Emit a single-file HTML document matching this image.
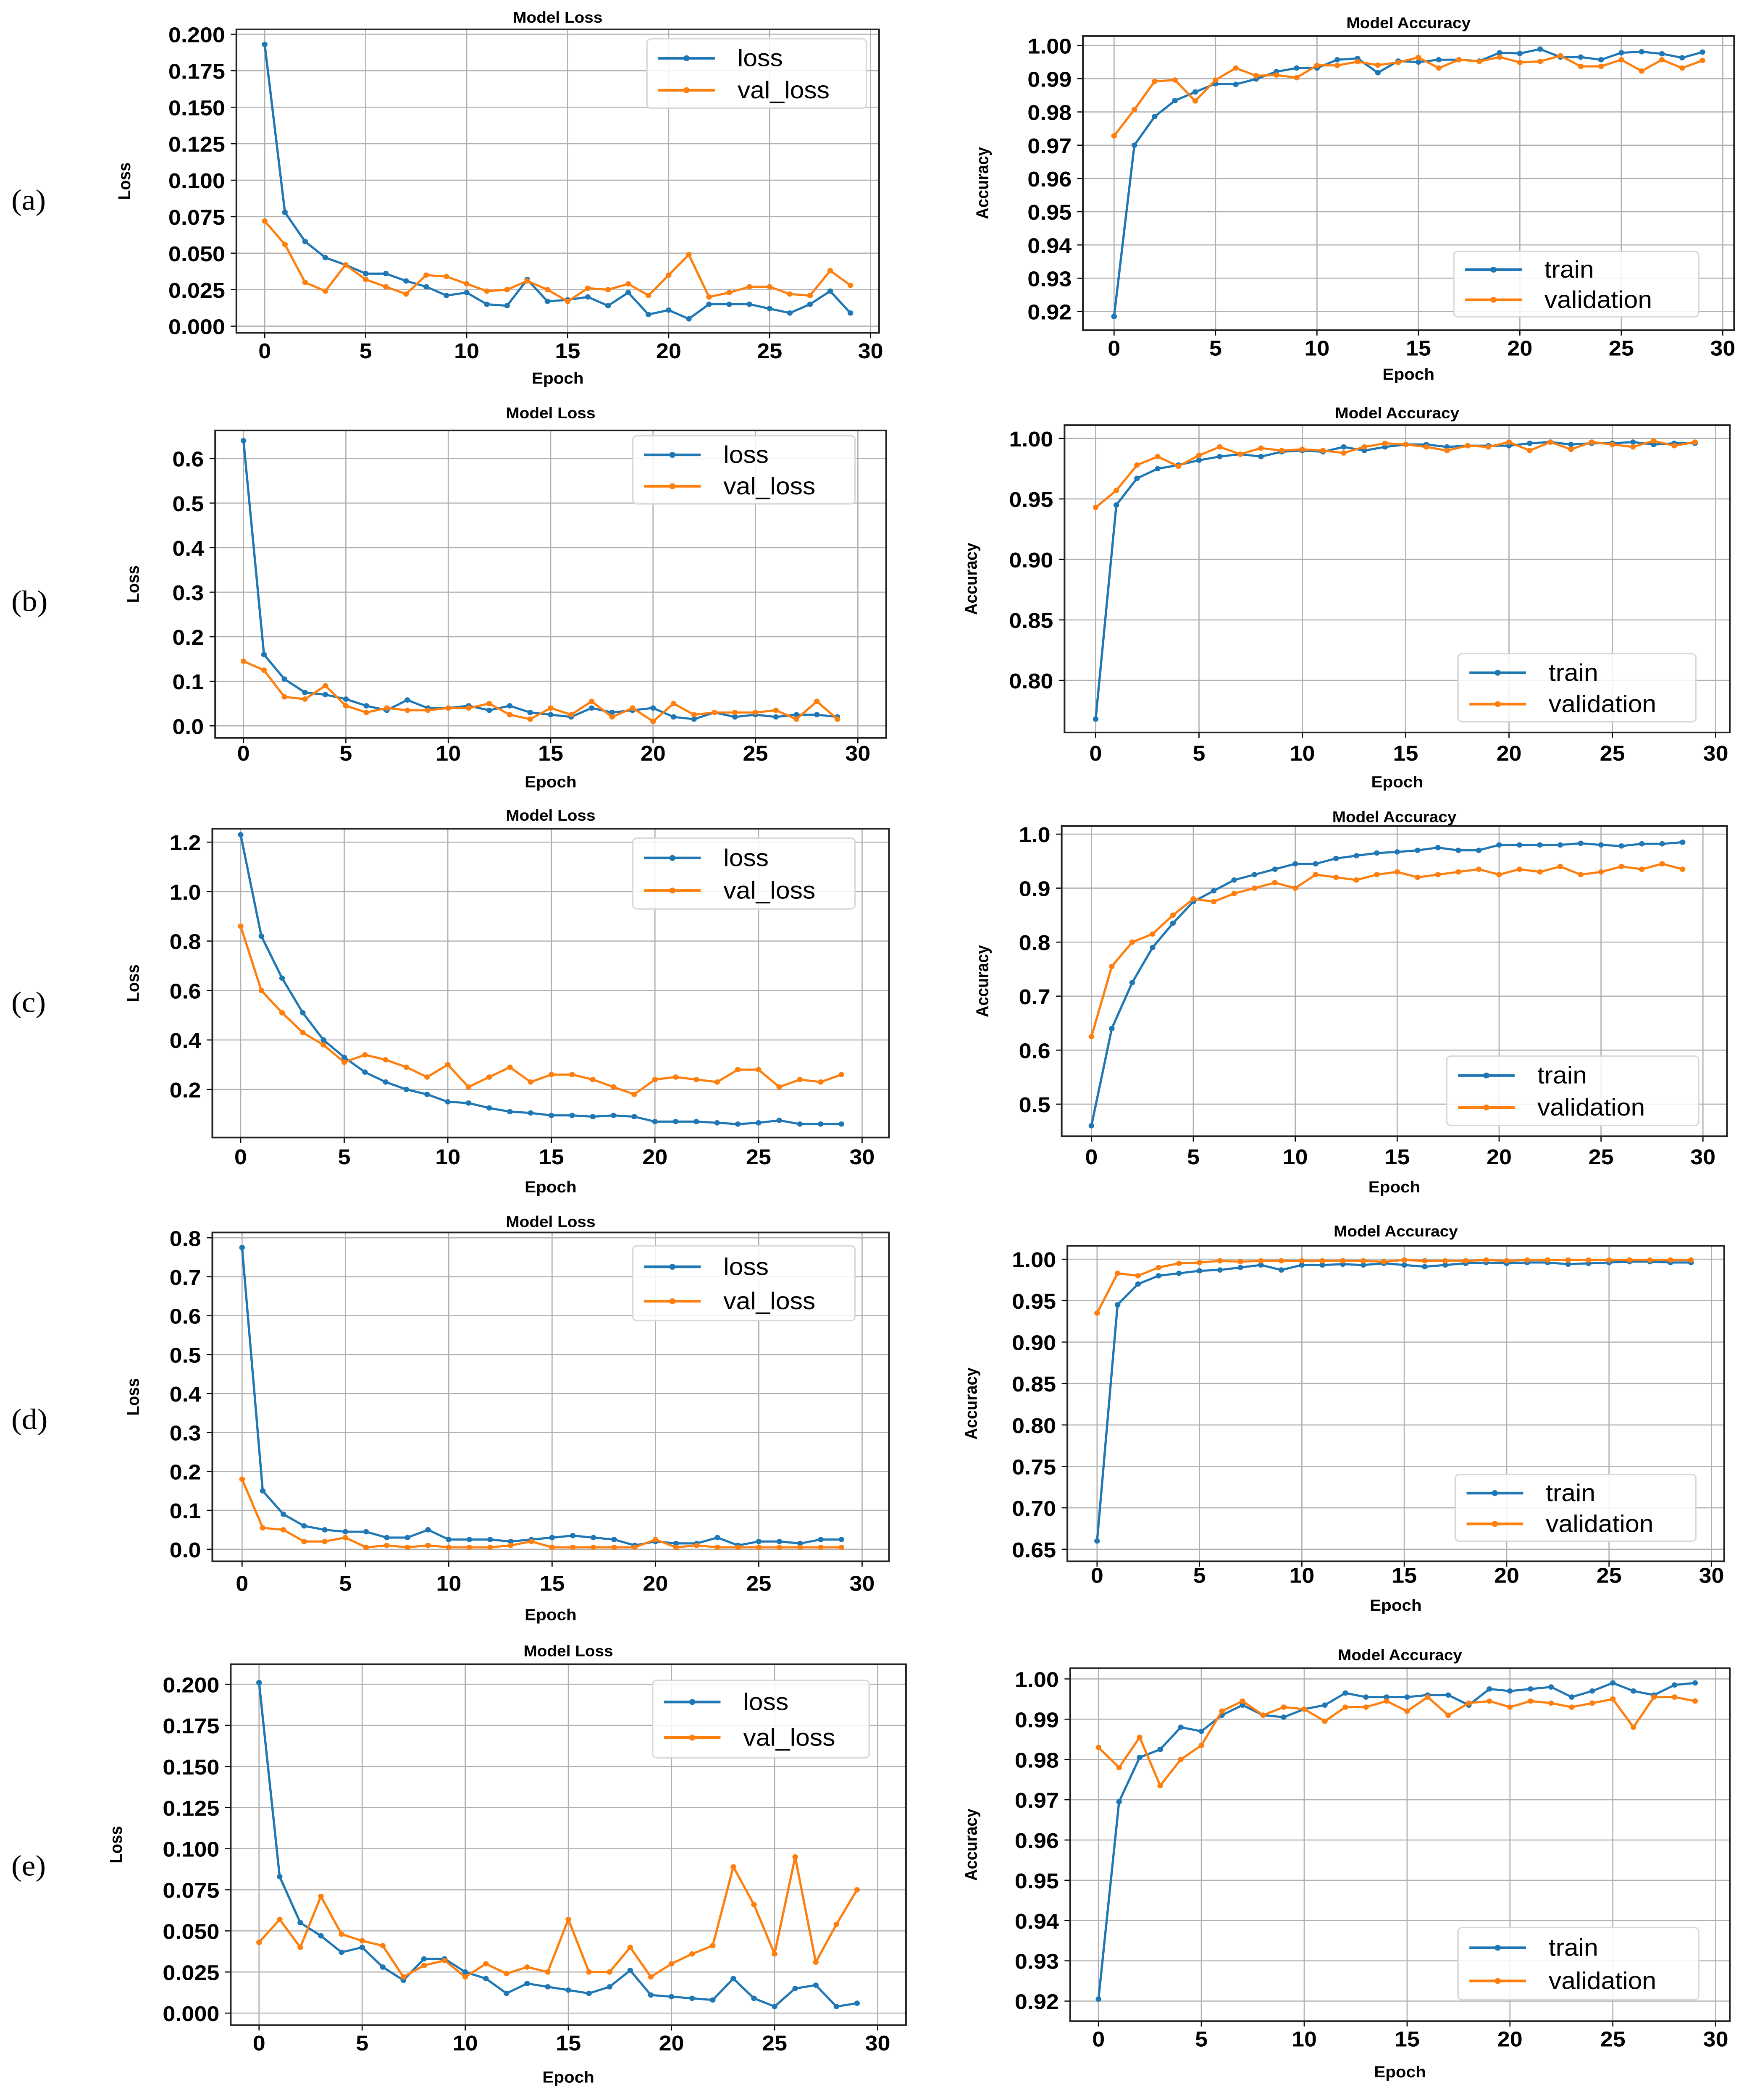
<!DOCTYPE html>
<html><head><meta charset="utf-8">
<style>
html,body{margin:0;padding:0;background:#fff;overflow:hidden;width:100%;height:100%;}
svg{display:block;position:fixed;left:0;top:0;width:100vw;height:100vh;}
</style></head>
<body>
<svg id="fig" xmlns="http://www.w3.org/2000/svg" viewBox="0 0 1232 1571" preserveAspectRatio="none"></svg>
<script>
const epochs = Array.from({length:30},(_,i)=>i);
const xTicks = [0,5,10,15,20,25,30];

const aLoss = [.193,.078,.058,.047,.042,.036,.036,.031,.027,.021,.023,.015,.014,.032,.017,.018,.020,.014,.023,.008,.011,.005,.015,.015,.015,.012,.009,.015,.024,.009];
const aValLoss = [.072,.056,.030,.024,.042,.032,.027,.022,.035,.034,.029,.024,.025,.031,.025,.017,.026,.025,.029,.021,.035,.049,.020,.023,.027,.027,.022,.021,.038,.028];
const aTrain = [.9185,.970,.9786,.9834,.986,.9885,.9883,.9899,.9921,.9932,.9932,.9957,.9961,.9918,.9953,.995,.9957,.9957,.9953,.9978,.9976,.9989,.9965,.9965,.9957,.9978,.9981,.9975,.9963,.998];
const aVal = [.9728,.9807,.9892,.9896,.9833,.9896,.9932,.9909,.9911,.9903,.994,.994,.9951,.9941,.9949,.9964,.9932,.9957,.9952,.9965,.9949,.9952,.9969,.9937,.9937,.9957,.9923,.9957,.9932,.9955];

const bLoss = [.64,.16,.105,.075,.07,.06,.045,.035,.058,.04,.04,.045,.035,.045,.03,.025,.02,.04,.03,.035,.04,.02,.015,.03,.02,.025,.02,.025,.025,.02];
const bValLoss = [.145,.125,.065,.06,.09,.045,.03,.04,.035,.035,.04,.04,.05,.025,.015,.04,.025,.055,.02,.04,.01,.05,.025,.03,.03,.03,.035,.015,.055,.015];
const bTrain = [.768,.945,.967,.975,.978,.982,.985,.987,.985,.989,.99,.989,.993,.99,.993,.995,.995,.993,.994,.994,.994,.996,.997,.995,.996,.996,.997,.995,.996,.996];
const bVal = [.943,.957,.978,.985,.977,.986,.993,.987,.992,.99,.991,.99,.988,.993,.996,.995,.993,.99,.994,.993,.997,.99,.997,.991,.997,.995,.993,.998,.994,.997];

const cLoss = [1.23,.82,.65,.51,.40,.33,.27,.23,.20,.18,.15,.145,.125,.11,.105,.095,.095,.09,.095,.09,.07,.07,.07,.065,.06,.065,.075,.06,.06,.06];
const cValLoss = [.86,.60,.51,.43,.38,.31,.34,.32,.29,.25,.30,.21,.25,.29,.23,.26,.26,.24,.21,.18,.24,.25,.24,.23,.28,.28,.21,.24,.23,.26];
const cTrain = [.46,.64,.725,.79,.835,.875,.895,.915,.925,.935,.945,.945,.955,.96,.965,.967,.97,.975,.97,.97,.98,.98,.98,.98,.983,.98,.978,.982,.982,.985];
const cVal = [.625,.755,.80,.815,.85,.88,.875,.89,.90,.91,.90,.925,.92,.915,.925,.93,.92,.925,.93,.935,.925,.935,.93,.94,.925,.93,.94,.935,.945,.935];

const dLoss = [.775,.15,.09,.06,.05,.045,.045,.03,.03,.05,.025,.025,.025,.02,.025,.03,.035,.03,.025,.01,.02,.015,.015,.03,.01,.02,.02,.015,.025,.025];
const dValLoss = [.18,.055,.05,.02,.02,.03,.005,.01,.005,.01,.005,.005,.005,.01,.02,.005,.005,.005,.005,.005,.025,.005,.01,.005,.005,.005,.005,.005,.005,.005];
const dTrain = [.66,.945,.97,.98,.983,.986,.987,.99,.993,.987,.993,.993,.994,.993,.995,.993,.991,.993,.995,.996,.995,.996,.996,.994,.995,.996,.997,.997,.996,.996];
const dVal = [.935,.983,.98,.99,.995,.996,.998,.997,.998,.998,.998,.998,.998,.998,.997,.999,.998,.998,.998,.999,.998,.999,.999,.999,.999,.999,.999,.999,.999,.999];

const eLoss = [.201,.083,.055,.047,.037,.04,.028,.02,.033,.033,.025,.021,.012,.018,.016,.014,.012,.016,.026,.011,.01,.009,.008,.021,.009,.004,.015,.017,.004,.006];
const eValLoss = [.043,.057,.04,.071,.048,.044,.041,.022,.029,.032,.022,.03,.024,.028,.025,.057,.025,.025,.04,.022,.03,.036,.041,.089,.066,.036,.095,.031,.054,.075];
const eTrain = [.9205,.9695,.9805,.9825,.988,.987,.991,.9935,.991,.9905,.9925,.9935,.9965,.9955,.9955,.9955,.996,.996,.9935,.9975,.997,.9975,.998,.9955,.997,.999,.997,.996,.9985,.999];
const eVal = [.983,.978,.9855,.9735,.98,.9835,.992,.9945,.991,.993,.9925,.9895,.993,.993,.9945,.992,.9955,.991,.994,.9945,.993,.9945,.994,.993,.994,.995,.988,.9955,.9955,.9945];

const lossTicksA = [0,0.025,0.05,0.075,0.1,0.125,0.15,0.175,0.2];
const accTicksA = [0.92,0.93,0.94,0.95,0.96,0.97,0.98,0.99,1.0];
const lossTicksB = [0,0.1,0.2,0.3,0.4,0.5,0.6];
const accTicksB = [0.80,0.85,0.90,0.95,1.00];
const lossTicksC = [0.2,0.4,0.6,0.8,1.0,1.2];
const accTicksC = [0.5,0.6,0.7,0.8,0.9,1.0];
const lossTicksD = [0,0.1,0.2,0.3,0.4,0.5,0.6,0.7,0.8];
const accTicksD = [0.65,0.70,0.75,0.80,0.85,0.90,0.95,1.00];

const NS = "http://www.w3.org/2000/svg";
const svg = document.getElementById('fig');
const BLUE = "#1f77b4", ORANGE = "#ff7f0e";
const FONT = '"Liberation Sans", "DejaVu Sans", sans-serif';

function mk(tag, attrs, parent){
  const e = document.createElementNS(NS, tag);
  for (const k in attrs) e.setAttribute(k, attrs[k]);
  (parent||svg).appendChild(e);
  return e;
}

function panel(p){
  const g = mk('g', {});
  
  
  const xs = v => p.x0 + (p.x30 - p.x0) * v / 30;
  const ys = v => p.yA + (p.yB - p.yA) * (v - p.vA) / (p.vB - p.vA);
  for (const t of xTicks){
    const gl = mk('line', {x1:xs(t), x2:xs(t), y1:p.f[1], y2:p.f[3], stroke:'#b0b0b0', 'stroke-width':0.8}, g);
    
    
    const tl = mk('text', {x:xs(t), y:p.xtY, 'text-anchor':'middle', 'font-family':FONT, 'font-weight':'bold', 'font-size':16}, g);
    tl.textContent = t;
    
    
    mk('line', {x1:xs(t), x2:xs(t), y1:p.f[3], y2:p.f[3]+4, stroke:'#000', 'stroke-width':0.8}, g);
  }
  for (const t of p.yt){
    const gl = mk('line', {x1:p.f[0], x2:p.f[2], y1:ys(t), y2:ys(t), stroke:'#b0b0b0', 'stroke-width':0.8}, g);
    
    
    const tl = mk('text', {x:p.f[0]-8, y:ys(t)+6, 'text-anchor':'end', 'font-family':FONT, 'font-weight':'bold', 'font-size':16}, g);
    tl.textContent = t.toFixed(p.dec);
    
    
    mk('line', {x1:p.f[0]-4, x2:p.f[0], y1:ys(t), y2:ys(t), stroke:'#000', 'stroke-width':0.8}, g);
  }
  const series = [[p.s1, BLUE, p.l1], [p.s2, ORANGE, p.l2]];
  for (const [arr, col, lab] of series){
    const pts = arr.map((v,i)=>xs(epochs[i]).toFixed(2)+','+ys(v).toFixed(2)).join(' ');
    const pl = mk('polyline', {points:pts, fill:'none', stroke:col, 'stroke-width':1.6, 'stroke-linejoin':'round'}, g);
    
    
    arr.forEach((v,i)=>{
      const c = mk('circle', {cx:xs(epochs[i]), cy:ys(v), r:2, fill:col}, g);
      
      
    });
  }
  const fr = mk('rect', {x:p.f[0], y:p.f[1], width:p.f[2]-p.f[0], height:p.f[3]-p.f[1], fill:'none', stroke:'#222', 'stroke-width':1.2}, g);
  
  
  const ti = mk('text', {x:(p.f[0]+p.f[2])/2, y:p.tY, 'text-anchor':'middle', 'font-family':FONT, 'font-weight':'bold', 'font-size':11.5}, g);
  ti.textContent = p.title;
  
  
  const xl = mk('text', {x:(p.f[0]+p.f[2])/2, y:p.xlY, 'text-anchor':'middle', 'font-family':FONT, 'font-weight':'bold', 'font-size':12}, g);
  xl.textContent = 'Epoch';
  
  
  const yc = (p.f[1]+p.f[3])/2;
  const yl = mk('text', {x:p.ylX, y:yc, 'text-anchor':'middle', 'font-family':FONT, 'font-weight':'bold', 'font-size':12, transform:`rotate(-90 ${p.ylX} ${yc})`}, g);
  yl.textContent = p.ylab;
  
  
  const L = p.leg;
  const lg = mk('g', {}, g);
  
  
  mk('rect', {x:L[0], y:L[1], width:L[2]-L[0], height:L[3]-L[1], rx:3, fill:'#fff', 'fill-opacity':0.85, stroke:'#d8d8d8', 'stroke-width':1}, lg);
  const h = (L[3]-L[1]);
  [[p.l1, BLUE, L[1]+h*0.28],[p.l2, ORANGE, L[1]+h*0.74]].forEach(([lab,col,yy])=>{
    const e = mk('g', {}, lg);
    
    
    mk('line', {x1:L[0]+8, x2:L[0]+48, y1:yy, y2:yy, stroke:col, 'stroke-width':2}, e);
    mk('circle', {cx:L[0]+28, cy:yy, r:2.2, fill:col}, e);
    const t = mk('text', {x:L[0]+64, y:yy+6, 'font-family':FONT, 'font-size':18}, e);
    t.textContent = lab;
  });
}

const P = [
 {name:'panel-a-loss', f:[167,22,621,249], x0:187, x30:615, vA:0, yA:244, vB:0.2, yB:25.6, yt:lossTicksA, dec:3, s1:aLoss, s2:aValLoss, l1:'loss', l2:'val_loss', title:'Model Loss', tY:17, xtY:268, xlY:287, ylX:92, ylab:'Loss', leg:[457,29,612,81]},
 {name:'panel-a-accuracy', f:[765,27,1225,247], x0:787, x30:1217, vA:0.92, yA:233, vB:1.0, yB:34, yt:accTicksA, dec:2, s1:aTrain, s2:aVal, l1:'train', l2:'validation', title:'Model Accuracy', tY:21, xtY:266, xlY:284, ylX:698, ylab:'Accuracy', leg:[1027,188,1200,237]},
 {name:'panel-b-loss', f:[152,322,626,552], x0:172, x30:606, vA:0, yA:543, vB:0.6, yB:343, yt:lossTicksB, dec:1, s1:bLoss, s2:bValLoss, l1:'loss', l2:'val_loss', title:'Model Loss', tY:313, xtY:569, xlY:589, ylX:98, ylab:'Loss', leg:[447,326,604,377]},
 {name:'panel-b-accuracy', f:[752,318,1222,548], x0:774, x30:1212, vA:0.80, yA:509, vB:1.0, yB:328, yt:accTicksB, dec:2, s1:bTrain, s2:bVal, l1:'train', l2:'validation', title:'Model Accuracy', tY:313, xtY:569, xlY:589, ylX:690, ylab:'Accuracy', leg:[1030,489,1198,540]},
 {name:'panel-c-loss', f:[150,620,628,851], x0:170, x30:609, vA:0.2, yA:815, vB:1.2, yB:630, yt:lossTicksC, dec:1, s1:cLoss, s2:cValLoss, l1:'loss', l2:'val_loss', title:'Model Loss', tY:614, xtY:871, xlY:892, ylX:98, ylab:'Loss', leg:[447,627,604,680]},
 {name:'panel-c-accuracy', f:[750,618,1220,850], x0:771, x30:1203, vA:0.5, yA:826, vB:1.0, yB:624, yt:accTicksC, dec:1, s1:cTrain, s2:cVal, l1:'train', l2:'validation', title:'Model Accuracy', tY:615, xtY:871, xlY:892, ylX:698, ylab:'Accuracy', leg:[1022,790,1200,842]},
 {name:'panel-d-loss', f:[150,922,628,1168], x0:171, x30:609, vA:0, yA:1159, vB:0.8, yB:926, yt:lossTicksD, dec:1, s1:dLoss, s2:dValLoss, l1:'loss', l2:'val_loss', title:'Model Loss', tY:918, xtY:1190, xlY:1212, ylX:98, ylab:'Loss', leg:[447,932,604,988]},
 {name:'panel-d-accuracy', f:[754,932,1218,1168], x0:775, x30:1209, vA:0.65, yA:1159, vB:1.0, yB:942, yt:accTicksD, dec:2, s1:dTrain, s2:dVal, l1:'train', l2:'validation', title:'Model Accuracy', tY:925, xtY:1184, xlY:1205, ylX:690, ylab:'Accuracy', leg:[1028,1103,1198,1153]},
 {name:'panel-e-loss', f:[163,1245,640,1515], x0:183, x30:620, vA:0, yA:1506, vB:0.2, yB:1260, yt:lossTicksA, dec:3, s1:eLoss, s2:eValLoss, l1:'loss', l2:'val_loss', title:'Model Loss', tY:1239, xtY:1534, xlY:1558, ylX:86, ylab:'Loss', leg:[461,1257,614,1315]},
 {name:'panel-e-accuracy', f:[756,1248,1222,1512], x0:776, x30:1212, vA:0.92, yA:1497, vB:1.0, yB:1256, yt:accTicksA, dec:2, s1:eTrain, s2:eVal, l1:'train', l2:'validation', title:'Model Accuracy', tY:1242, xtY:1531, xlY:1554, ylX:690, ylab:'Accuracy', leg:[1030,1442,1200,1496]}
];
P.forEach(panel);

[['(a)',157],['(b)',457],['(c)',757],['(d)',1069],['(e)',1403]].forEach(([t,y])=>{
  const e = mk('text', {x:8, y:y, 'font-family':'"Liberation Serif", serif', 'font-size':22}, svg);
  e.textContent = t;
  
  
});
</script>
</body></html>
